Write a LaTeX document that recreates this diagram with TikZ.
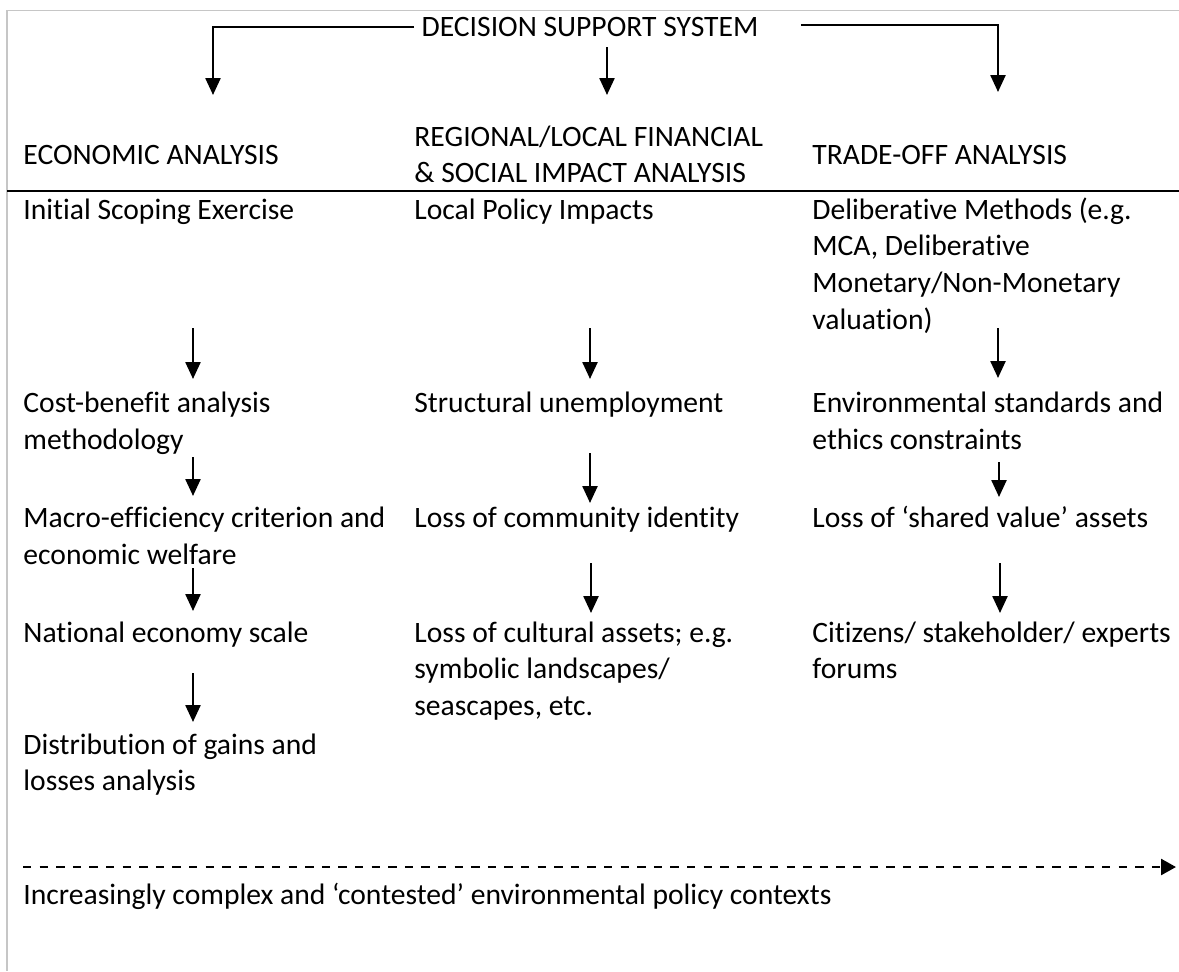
\documentclass[tikz,border=0pt]{standalone}
\usepackage{fontspec}
\setmainfont{Carlito}[Ligatures={TeX,NoCommon}]
\usetikzlibrary{arrows.meta}

\tikzset{
  txt/.style={anchor=base west, inner sep=0pt, align=left, font=\fontsize{14.8}{18.4}\selectfont},
  flow/.style={line width=1.2pt, -{Triangle[length=8.5pt,width=7.5pt]}},
}

\begin{document}
\begin{tikzpicture}[x=0.5pt,y=-0.5pt]
        \useasboundingbox (0,0) rectangle (1179,971);
        \draw[gray!45, line width=0.75pt] (1179,10.5) -- (7,10.5) -- (7,971);
        \draw[line width=1.25pt] (7,191) -- (1179,191);

        \node[txt, anchor=base] (dss) at (590,36.5) {DECISION SUPPORT SYSTEM};
        \coordinate (econtip) at (213,95); \coordinate (midtop) at (607,47); \coordinate (midtip) at (607,95); \coordinate (tradetip) at (998,92);
        \draw[flow] ([xshift=-3.5pt]dss.west) -| (econtip);
        \draw[flow] (midtop) -- (midtip);
        \draw[flow] ([xshift=21pt,yshift=1pt]dss.east) -| (tradetip);

        % base of a node with several lines = its last line
        \node[txt] (econ) at (23,164.5) {ECONOMIC ANALYSIS};
        \node[txt] (regio) at (414,182.8) {REGIONAL/LOCAL FINANCIAL\\ \& SOCIAL IMPACT ANALYSIS};
        \node[txt] (trade) at (812,164.5) {TRADE-OFF ANALYSIS};

        % economic column
        \node[txt] (ise) at (23,219) {Initial Scoping Exercise};
        \node[txt] (cba) at (23,449.5) {Cost-benefit analysis\\ methodology};
        \node[txt] (mec) at (23,564) {Macro-efficiency criterion and\\ economic welfare};
        \node[txt] (nes) at (23,642) {National economy scale};
        \node[txt] (dgl) at (23,790.8) {Distribution of gains and\\ losses analysis};

        % regional column
        \node[txt] (lpi) at (414,219) {Local Policy Impacts};
        \node[txt] (stu) at (414,412.7) {Structural unemployment};
        \node[txt] (lci) at (414,527.2) {Loss of community identity};
        \node[txt] (lca) at (414,715.6) {Loss of cultural assets; e.g.\\ symbolic landscapes/\\ seascapes, etc.};

        % trade-off column
        \node[txt] (dlm) at (812,329.4) {Deliberative Methods (e.g.\\ MCA, Deliberative\\ Monetary/Non-Monetary\\ valuation)};
        \node[txt] (esc) at (812,449.5) {Environmental standards and\\ ethics constraints};
        \node[txt] (lsv) at (812,527.2) {Loss of `shared value' assets};
        \node[txt] (csf) at (812,678.8) {Citizens/ stakeholder/ experts\\ forums};

        \foreach \n/\x/\ya/\yb in {l1/193/328/379, l2/193/457/496, l3/193/568/611, l4/193/673/722,
                                   m1/590/328/379, m2/590/453/503, m3/591/563/613,
                                   r1/998/328/378, r2/999/462/497, r3/1000/563/613}
            {\coordinate (\n a) at (\x,\ya); \coordinate (\n b) at (\x,\yb); \draw[flow] (\n a) -- (\n b);}

        \coordinate (ctxa) at (23,867); \coordinate (ctxb) at (1176,867);
        \draw[line width=1.3pt, dash pattern=on 4.2pt off 4.1pt, -{Triangle[length=7.5pt,width=8pt]}] (ctxa) -- (ctxb);
        \node[txt] (ctx) at (23,904) {Increasingly complex and `contested' environmental policy contexts};
    \end{tikzpicture}
\end{document}
